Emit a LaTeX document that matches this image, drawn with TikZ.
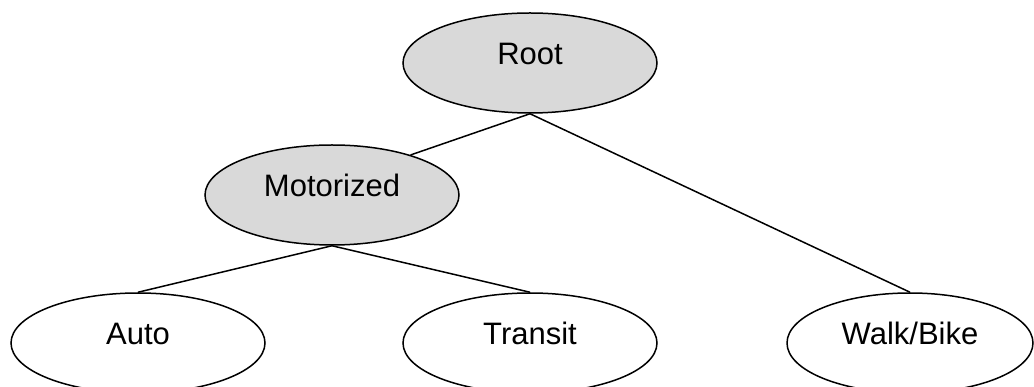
\documentclass[tikz,border=0pt]{standalone}
\usepackage{fontspec}
\setmainfont{Liberation Sans}
\usepackage{xcolor}
\usepackage{tikz}
\usetikzlibrary{shapes}
\usetikzlibrary{shapes.geometric}
\definecolor{nestfill}{HTML}{D9D9D9}
\tikzset{
  % node options
  alt/.style={ellipse,draw,line width=1.5pt,minimum width=254pt,minimum height=100pt,
    inner sep=0pt,font=\fontsize{31}{36}\selectfont,text height=22pt,text depth=18pt},
  altWalk/.style={alt,minimum width=246pt},
  nest/.style={alt,fill=nestfill},
  % path options
  branch/.style={line width=1.5pt},
}
\begin{document}
\begin{tikzpicture}[x=1pt,y=-1pt]
  \useasboundingbox (0,0) rectangle (1034,387);
  \node[nest] (root) at (530,63) {Root};
  \node[nest] (motorized) at (332,195) {Motorized};
  \node[alt] (auto) at (138,343) {Auto};
  \node[alt] (transit) at (530,343) {Transit};
  \node[altWalk] (walkbike) at (910,343) {Walk/Bike};
  \draw[branch] (root.south) -- (motorized.27);
  \draw[branch] (root.south) -- (walkbike.north);
  \draw[branch] (motorized.south) -- (auto.north);
  \draw[branch] (motorized.south) -- (transit.north);
\end{tikzpicture}
\end{document}
